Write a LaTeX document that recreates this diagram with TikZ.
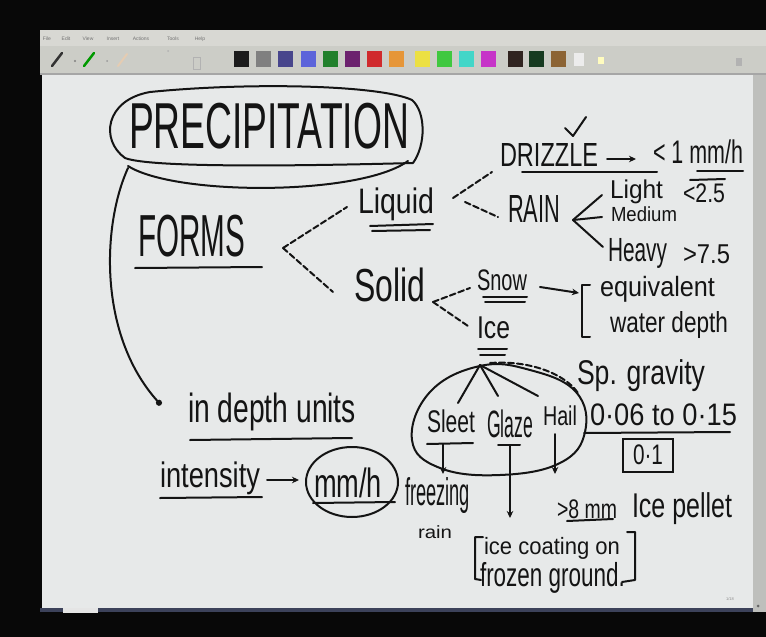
\documentclass[tikz,border=0pt]{standalone}
\usepackage{fontspec}
\setmainfont{Liberation Sans}
\usepackage{graphicx}
\usetikzlibrary{arrows.meta}

\definecolor{ink}{RGB}{20,20,20}
\definecolor{board}{RGB}{231,233,233}
\definecolor{menubar}{RGB}{216,216,211}
\definecolor{chrome}{RGB}{204,205,199}
\definecolor{sbar}{RGB}{190,191,188}
\definecolor{edge}{RGB}{60,66,90}
\definecolor{swA}{RGB}{28,28,28}
\definecolor{swB}{RGB}{128,128,128}
\definecolor{swC}{RGB}{72,70,140}
\definecolor{swD}{RGB}{92,100,218}
\definecolor{swE}{RGB}{34,128,44}
\definecolor{swF}{RGB}{108,34,110}
\definecolor{swG}{RGB}{208,42,44}
\definecolor{swH}{RGB}{230,150,56}
\definecolor{swI}{RGB}{236,224,66}
\definecolor{swJ}{RGB}{64,200,64}
\definecolor{swK}{RGB}{66,214,200}
\definecolor{swL}{RGB}{198,52,200}
\definecolor{swM}{RGB}{48,36,32}
\definecolor{swN}{RGB}{22,58,32}
\definecolor{swO}{RGB}{140,100,52}

% scale a written word to the width and total height it takes on the board
\newcommand{\fitbox}[3]{\resizebox*{#1pt}{#2pt}{#3}}

\tikzset{
  txt/.style={inner sep=0pt, outer sep=0pt, anchor=north west, text=ink},
  pen/.style={draw=ink, line width=2pt, line cap=round, line join=round},
  dashline/.style={pen, dash pattern=on 6pt off 3pt},
  arr/.style={pen, -{Stealth[length=7pt,width=6.5pt]}},
  menu/.style={inner sep=0pt, text=black!55, font=\fontsize{5}{6}\selectfont}
}

\begin{document}
\begin{tikzpicture}[x=1pt,y=-1pt]
\useasboundingbox (0,0) rectangle (766,637);

% screen surround, window chrome and writing area
\fill[black!97] (0,0) rectangle (766,637);
\fill[menubar] (40,30) rectangle (766,46);
\fill[chrome] (40,46) rectangle (766,73);
\fill[black!35] (40,73) rectangle (766,75);
\fill[board] (42,75) rectangle (753,608);
\fill[sbar] (753,75) rectangle (766,612);
\fill[edge] (40,608) rectangle (753,612);
\fill[black!10] (63,608) rectangle (98,613);
\fill[black!60] (758,606) circle (1.5);

% menu entries
\node[menu] (m1) at (47,39) {File};
\node[menu] (m2) at (66,39) {Edit};
\node[menu] (m3) at (88,39) {View};
\node[menu] (m4) at (113,39) {Insert};
\node[menu] (m5) at (141,39) {Actions};
\node[menu] (m6) at (173,39) {Tools};
\node[menu] (m7) at (200,39) {Help};

% pen tools
\draw[black!80, line width=2.5pt, line cap=round] (52,66) -- (62,53);
\fill[black!50] (75,61) circle (1.2);
\draw[green!60!black, line width=2.5pt, line cap=round] (84,66) -- (94,53);
\fill[black!40] (107,61) circle (1);
\draw[brown!40, line width=2pt, line cap=round] (118,66) -- (127,54);
\fill[black!30] (168,51) circle (1);
\draw[black!30, line width=0.8pt] (193,57) rectangle (200,69);
\fill[black!30] (736,58) rectangle (742,66);

% colour swatches
\foreach \xx/\cc in {234/swA,256/swB,278/swC,301/swD,323/swE,345/swF,367/swG,
    389/swH,415/swI,437/swJ,459/swK,481/swL,508/swM,529/swN,551/swO}
  \fill[\cc] (\xx,51) rectangle ++(15,16);
\fill[white!85!gray] (574,53) rectangle ++(10,13);
\fill[yellow!25] (598,57) rectangle ++(6,7);

% ---------------- words ----------------
\node[txt] (precip) at (129,103) {\fitbox{280}{46}{PRECIPITATION}};
\node[txt] (forms) at (138,215) {\fitbox{107}{42}{FORMS}};
\node[txt] (liquid) at (358,188) {\fitbox{76}{33}{Liquid}};
\node[txt] (solid) at (354,268) {\fitbox{71}{34}{Solid}};
\node[txt] (drizzle) at (500,143) {\fitbox{98}{23}{DRIZZLE}};
\node[txt] (lt1) at (653,140) {\fitbox{90}{24}{< 1 mm/h}};
\node[txt] (rain) at (508,195) {\fitbox{52}{27}{RAIN}};
\node[txt] (light) at (610,180) {\fitbox{53}{24}{Light}};
\node[txt] (lt25) at (683,184) {\fitbox{42}{19}{<2.5}};
\node[txt] (medium) at (611,207) {\fitbox{66}{15}{Medium}};
\node[txt] (heavy) at (608,238) {\fitbox{59}{30}{Heavy}};
\node[txt] (gt75) at (683,245) {\fitbox{47}{19}{>7.5}};
\node[txt] (snow) at (477,270) {\fitbox{50}{21}{Snow}};
\node[txt] (equiv) at (600,276) {\fitbox{115}{26}{equivalent}};
\node[txt] (wdepth) at (610,312) {\fitbox{118}{27}{water depth}};
\node[txt] (ice) at (477,317) {\fitbox{33}{22}{Ice}};
\node[txt] (spg) at (577,360) {\fitbox{128}{32}{Sp. gravity}};
\node[txt] (range) at (590,404) {\fitbox{147}{22}{0·06 to 0·15}};
\node[draw=ink, line width=2pt, inner sep=0pt, minimum width=50pt,
      minimum height=33pt, text=ink] (avg) at (648,455) {\fitbox{30}{20}{0·1}};
\node[txt] (sleet) at (427,410) {\fitbox{48}{23}{Sleet}};
\node[txt] (glaze) at (487,410) {\fitbox{46}{28}{Glaze}};
\node[txt] (hail) at (543,406) {\fitbox{34}{20}{Hail}};
\node[txt] (freezing) at (405,478) {\fitbox{65}{36}{freezing}};
\node[txt] (frain) at (418,526) {\fitbox{34}{13}{rain}};
\node[txt] (gt8) at (557,500) {\fitbox{60}{19}{>8 mm}};
\node[txt] (pellet) at (632,493) {\fitbox{100}{32}{Ice pellet}};
\node[txt] (coating) at (484,537) {\fitbox{136}{22}{ice coating on}};
\node[txt] (frozen) at (480,562) {\fitbox{145}{31}{frozen ground.}};
\node[txt] (indepth) at (188,393) {\fitbox{168}{38}{in depth units}};
\node[txt] (intens) at (160,462) {\fitbox{100}{33}{intensity}};
\node[txt] (mmh) at (314,468) {\fitbox{68}{30}{mm/h}};
\node[inner sep=0pt, text=black!45, font=\fontsize{4}{5}\selectfont] (pageno) at (730,599) {1/18};

% ---------------- loops and underlines ----------------
% loop round the title
\draw[pen] (413,163) .. controls (300,166) and (150,168) .. (125,158)
  .. controls (100,140) and (105,100) .. (150,92)
  .. controls (250,82) and (380,85) .. (412,100)
  .. controls (426,112) and (426,145) .. (413,163);
\draw[pen] (128,166) .. controls (175,196) and (360,196) .. (408,161);
\draw[pen] (135,268) -- (262,267);
\draw[pen] (370,226) -- (433,224);
\draw[pen] (372,231) -- (430,230);
\draw[pen] (522,172) -- (657,172);
\draw[pen] (697,171) -- (743,171);
\draw[pen] (690,180) -- (725,179);
\draw[pen] (483,297) -- (527,297);
\draw[pen] (485,302) -- (525,302);
\draw[pen] (478,349) -- (507,349);
\draw[pen] (480,355) -- (505,355);
\draw[pen] (567,521) -- (613,519);
\draw[pen] (190,440) -- (352,438);
\draw[pen] (160,498) -- (262,497);
\draw[pen] (313,503) -- (395,502);
\draw[pen] (352,482) ellipse [x radius=46, y radius=35];
% check mark over DRIZZLE
\draw[pen] (565,128) -- (573,136) -- (586,117);
% brackets
\draw[pen] (590,285) -- (582,285) -- (582,337) -- (590,337);
\draw[pen] (483,537) -- (475,537) -- (475,579) -- (481,580);
\draw[pen] (627,532) -- (635,532) -- (635,580) -- (622,582);
% loop round the kinds of ice
\draw[pen] plot[smooth cycle, tension=0.7] coordinates {(480,366) (430,392) (412,440)
  (440,468) (500,475) (560,463) (585,432) (576,392) (530,370)};

% ---------------- connectors ----------------
\coordinate (fv) at (283,248);
\coordinate (fl) at (347,207);
\coordinate (fs) at (333,292);
\draw[dashline] (fv) -- (fl);
\draw[dashline] (fv) -- (fs);

\coordinate (lv1) at (453,198);
\coordinate (ld) at (492,172);
\coordinate (lv2) at (465,202);
\coordinate (lr) at (498,217);
\draw[dashline] (lv1) -- (ld);
\draw[dashline] (lv2) -- (lr);

\coordinate (da) at (607,159);
\coordinate (db) at (636,159);
\draw[arr] (da) -- (db);

\coordinate (rv) at (573,220);
\draw[pen] (rv) -- (602,195);
\draw[pen] (rv) -- (602,217);
\draw[pen] (rv) -- (603,247);

\coordinate (sv) at (433,302);
\coordinate (ss) at (470,288);
\coordinate (si) at (468,326);
\draw[dashline] (sv) -- (ss);
\draw[dashline] (sv) -- (si);

\coordinate (sa) at (540,287);
\coordinate (sb) at (579,293);
\draw[arr] (sa) -- (sb);

\coordinate (iv) at (480,365);
\coordinate (isl) at (458,403);
\coordinate (igl) at (498,396);
\coordinate (iha) at (538,396);
\draw[pen] (iv) -- (isl);
\draw[pen] (iv) -- (igl);
\draw[pen] (iv) -- (iha);
\coordinate (ig0) at (490,363);
\coordinate (ig1) at (578,393);
\draw[dashline] (ig0) .. controls (530,360) and (565,374) .. (ig1);

\draw[pen] (427,444) -- (473,443);
\coordinate (sla) at (443,444);
\coordinate (slb) at (443,474);
\draw[arr] (sla) -- (slb);
\draw[pen] (498,445) -- (520,445);
\coordinate (gla) at (510,445);
\coordinate (glb) at (510,518);
\draw[arr] (gla) -- (glb);
\coordinate (haa) at (555,434);
\coordinate (hab) at (555,474);
\draw[arr] (haa) -- (hab);

\coordinate (rl0) at (584,433);
\coordinate (rl1) at (730,432);
\draw[pen] (rl0) -- (rl1);

% title down to the units
\coordinate (tstart) at (128,168);
\coordinate (tend) at (161,405);
\draw[pen, -{Circle[length=6pt]}] (tstart) .. controls (102,225) and (98,335) .. (tend);

\coordinate (ia) at (267,480);
\coordinate (ib) at (299,480);
\draw[arr] (ia) -- (ib);

\end{tikzpicture}
\end{document}
